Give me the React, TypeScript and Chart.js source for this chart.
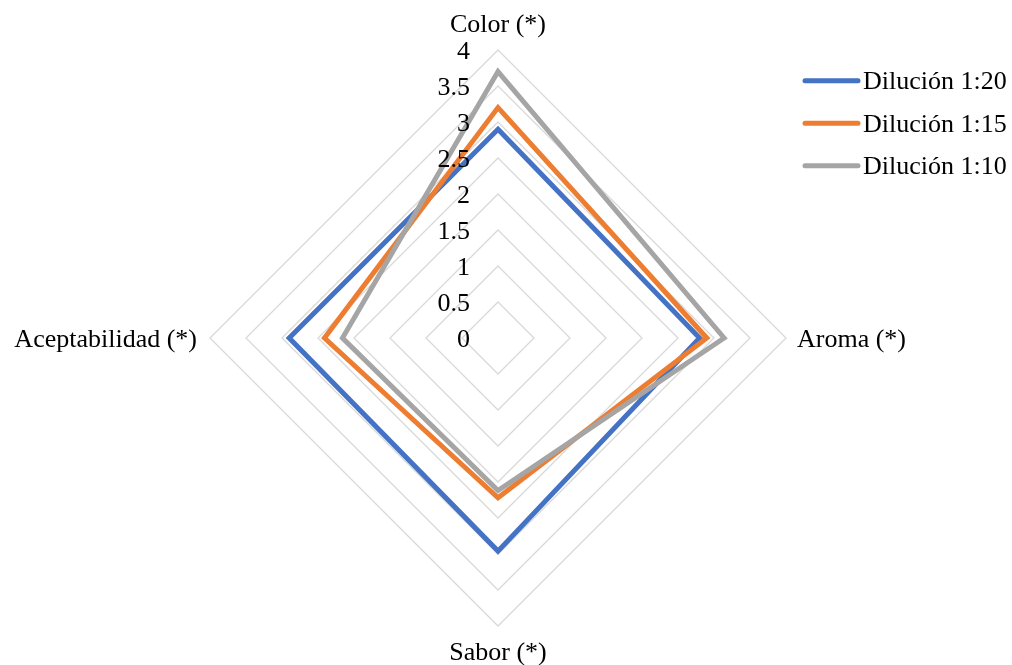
import { useEffect, useRef } from 'react';
import { Chart, registerables } from 'chart.js';

Chart.register(...registerables);

const categories = ['Color (*)', 'Aroma (*)', 'Sabor (*)', 'Aceptabilidad (*)'];
const seriesLabels = ['Dilución 1:20', 'Dilución 1:15', 'Dilución 1:10'];
const dilucion20 = [2.9, 2.8, 2.96, 2.9];
const dilucion15 = [3.2, 2.9, 2.22, 2.41];
const dilucion10 = [3.7, 3.14, 2.12, 2.16];
const seriesColors = ['#4472C4', '#ED7D31', '#A5A5A5'];
const scaleMin = 0;
const scaleMax = 4;
const scaleStep = 0.5;

const FONT = '26px "Liberation Serif", "Times New Roman", serif';

const overlayPlugin = {
  id: 'overlay',
  afterDraw(chart: any) {
    const ctx = chart.ctx;
    const scale = chart.scales.r;
    ctx.save();
    ctx.font = FONT;
    ctx.fillStyle = '#000000';
    ctx.textBaseline = 'alphabetic';

    // tick labels, right-aligned left of the vertical axis
    ctx.textAlign = 'right';
    scale.ticks.forEach((t: any) => {
      const d = scale.getDistanceFromCenterForValue(t.value);
      ctx.fillText(String(Number(t.value)), scale.xCenter - 28, scale.yCenter - d + 9);
    });

    // point labels
    chart.data.labels.forEach((lab: string, i: number) => {
      const p = scale.getPointPosition(i, scale.drawingArea);
      const dx = p.x - scale.xCenter;
      const dy = p.y - scale.yCenter;
      if (Math.abs(dx) < 1) {
        ctx.textAlign = 'center';
        if (dy < 0) ctx.fillText(lab, p.x, p.y - 18);
        else ctx.fillText(lab, p.x, p.y + 34);
      } else if (dx > 0) {
        ctx.textAlign = 'left';
        ctx.fillText(lab, p.x + 11, p.y + 8.5);
      } else {
        ctx.textAlign = 'right';
        ctx.fillText(lab, p.x - 13, p.y + 8.5);
      }
    });

    // legend
    chart.data.datasets.forEach((ds: any, i: number) => {
      const y = 80.7 + i * 42.5;
      ctx.beginPath();
      ctx.lineWidth = 5;
      ctx.lineCap = 'round';
      ctx.strokeStyle = ds.borderColor;
      ctx.moveTo(805, y);
      ctx.lineTo(858, y);
      ctx.stroke();
      ctx.textAlign = 'left';
      ctx.fillText(ds.label, 863, y + 8.6);
    });
    ctx.restore();
  },
};

export default function App() {
  const canvasRef = useRef<HTMLCanvasElement | null>(null);

  useEffect(() => {
    if (!canvasRef.current) return;
    const seriesData = [dilucion20, dilucion15, dilucion10];
    const chart = new Chart(canvasRef.current, {
      type: 'radar',
      data: {
        labels: categories,
        datasets: seriesLabels.map((label, i) => ({
          label,
          data: seriesData[i],
          borderColor: seriesColors[i],
          backgroundColor: seriesColors[i],
          borderWidth: 5,
          fill: false,
          pointRadius: 0,
          pointHoverRadius: 0,
          tension: 0,
          order: 3 - i,
        })),
      },
      options: {
        animation: false,
        responsive: true,
        maintainAspectRatio: false,
        layout: { padding: { left: 210, top: 50, right: 226, bottom: 39 } },
        plugins: {
          legend: { display: false },
          tooltip: { enabled: false },
        },
        scales: {
          r: {
            min: scaleMin,
            max: scaleMax,
            beginAtZero: true,
            ticks: { stepSize: scaleStep, display: false },
            pointLabels: { display: false },
            angleLines: { display: false },
            grid: { color: '#D9D9D9', lineWidth: 1.3, circular: false },
          },
        },
      },
      plugins: [overlayPlugin],
    });
    return () => chart.destroy();
  }, []);

  return (
    <div style={{ position: 'absolute', left: 0, top: 0, width: 1012, height: 665, background: '#ffffff' }}>
      <canvas ref={canvasRef} />
    </div>
  );
}
